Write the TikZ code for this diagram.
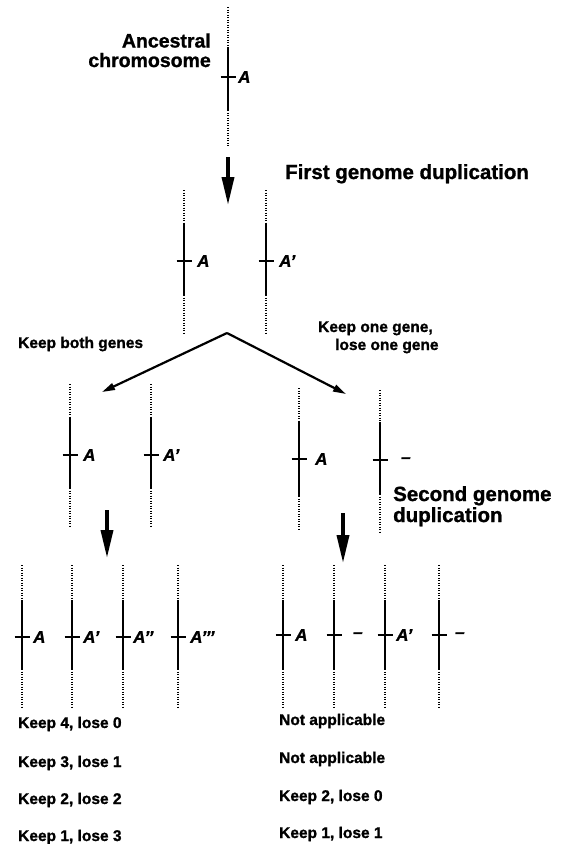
\documentclass[tikz,border=0pt]{standalone}
\usepackage{fontspec}
\setmainfont{Liberation Sans}[BoldFeatures={FakeBold=1.2}, BoldItalicFeatures={FakeBold=1.2}]
\usetikzlibrary{arrows.meta}
\tikzset{
  dotline/.style={line width=1.6pt, dash pattern=on 1.4pt off 1.1pt},
  chromline/.style={line width=2.2pt},
  tickline/.style={line width=2.2pt},
  gene/.style={font=\fontsize{17}{17}\selectfont\bfseries\itshape, inner sep=0pt, anchor=west},
  stage/.style={font=\fontsize{20.5}{21}\selectfont\bfseries, inner sep=0pt, align=left, anchor=base west},
  note/.style={font=\fontsize{15.5}{18}\selectfont\bfseries, inner sep=0pt},
  tally/.style={font=\fontsize{15.5}{16}\selectfont\bfseries, inner sep=0pt, anchor=base west},
  duparrow/.style={line width=3.6pt, -{Triangle[length=28pt,width=12pt]}},
  fatearrow/.style={line width=2.2pt, -{Triangle[length=13pt,width=7pt]}},
}
% chromosome: name, x, top, solid start, gene tick, solid end, bottom, label offset, label
\newcommand{\genechrom}[9]{%
  \coordinate (#1-t) at (#2,#3);
  \coordinate (#1-s) at (#2,#4);
  \coordinate (#1-g) at (#2,#5);
  \coordinate (#1-e) at (#2,#6);
  \coordinate (#1-b) at (#2,#7);
  \draw[dotline] (#1-t) -- (#1-s);
  \draw[chromline] (#1-s) -- (#1-e);
  \draw[dotline] (#1-e) -- (#1-b);
  \draw[tickline] ([xshift=-7.5pt]#1-g) -- ([xshift=7.5pt]#1-g);
  \node[gene] (#1-l) at ([xshift=#8pt]#1-g) {#9};
}
\begin{document}
\begin{tikzpicture}[x=1pt, y=-1pt]
\useasboundingbox (0,0) rectangle (566,844);

% ancestral chromosome
\genechrom{anc}{228}{7}{47}{77}{110}{147}{10}{A}
\node[note, align=right, anchor=base east, font=\fontsize{19.5}{19.5}\selectfont\bfseries] (anctxt) at (211,67) {Ancestral\\chromosome};

% first genome duplication
\coordinate (d1s) at (228,157);
\coordinate (d1e) at (228,205);
\draw[duparrow] (d1s) -- (d1e);
\node[stage] (dup1) at (285,179) {First genome duplication};

\genechrom{f1}{184}{190}{223}{261}{295}{333}{13}{A}
\genechrom{f2}{266}{190}{223}{261}{295}{333}{13}{A’}

% fates of the duplicated pair
\coordinate (apex) at (227,333);
\coordinate (kbtip) at (102,392);
\coordinate (kotip) at (346,394);
\draw[fatearrow] (apex) -- (kbtip);
\draw[fatearrow] (apex) -- (kotip);
\node[note, anchor=base west] (keepboth) at (18,348) {Keep both genes};
\node[note, anchor=base west, align=left] (keepone) at (318,350) {Keep one gene,\\\hspace*{17pt}lose one gene};

% after first duplication
\genechrom{s1}{70}{384}{417}{455}{488}{526}{13}{A}
\genechrom{s2}{151}{384}{417}{455}{488}{526}{12}{A’}
\genechrom{s3}{299}{388}{421}{459}{496}{530}{16}{A}
\genechrom{s4}{380}{390}{422}{460}{494}{533}{21}{–}

% second genome duplication
\coordinate (d2ls) at (107,510);
\coordinate (d2le) at (107,558);
\coordinate (d2rs) at (343,513);
\coordinate (d2re) at (343,563);
\draw[duparrow] (d2ls) -- (d2le);
\draw[duparrow] (d2rs) -- (d2re);
\node[stage] (dup2) at (393,522) {Second genome\\duplication};

% after second duplication
\genechrom{t1}{22}{565}{601}{637}{669}{707}{11}{A}
\genechrom{t2}{72}{565}{601}{637}{669}{707}{11}{A’}
\genechrom{t3}{123}{565}{601}{637}{669}{707}{10}{A’’}
\genechrom{t4}{178}{565}{601}{637}{669}{707}{12}{A’’’}
\genechrom{u1}{283}{565}{601}{635}{669}{707}{12}{A}
\genechrom{u2}{334}{565}{601}{635}{669}{707}{19}{–}
\genechrom{u3}{385}{565}{601}{635}{669}{707}{11}{A’}
\genechrom{u4}{439}{565}{601}{635}{669}{707}{16}{–}

% outcomes
\node[tally] (k40) at (18,728) {Keep 4, lose 0};
\node[tally] (k31) at (18,767) {Keep 3, lose 1};
\node[tally] (k22) at (18,804) {Keep 2, lose 2};
\node[tally] (k13) at (18,841) {Keep 1, lose 3};
\node[tally] (na1) at (279,725) {Not applicable};
\node[tally] (na2) at (279,763) {Not applicable};
\node[tally] (k20) at (279,801) {Keep 2, lose 0};
\node[tally] (k11) at (279,838) {Keep 1, lose 1};
\end{tikzpicture}
\end{document}
